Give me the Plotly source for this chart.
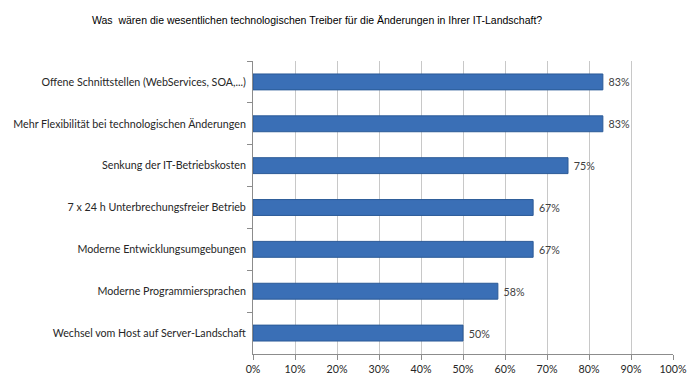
import plotly.graph_objects as go

title_text = "Was  wären die wesentlichen technologischen Treiber für die Änderungen in Ihrer IT-Landschaft?"
categories = [
    "Offene Schnittstellen (WebServices, SOA,...)",
    "Mehr Flexibilität bei technologischen Änderungen",
    "Senkung der IT-Betriebskosten",
    "7 x 24 h Unterbrechungsfreier Betrieb",
    "Moderne Entwicklungsumgebungen",
    "Moderne Programmiersprachen",
    "Wechsel vom Host auf Server-Landschaft",
]
values = [83.3, 83.3, 75.0, 66.7, 66.7, 58.3, 50.0]
tick_vals = [0, 10, 20, 30, 40, 50, 60, 70, 80, 90, 100]
tick_text = [f"{v}%" for v in tick_vals]

FONT = "Lato, Open Sans, Liberation Sans, Arial"
FS = 10.7

fig = go.Figure(
    go.Bar(
        x=values,
        y=categories,
        orientation="h",
        marker=dict(color="#3a6fb6", line=dict(color="#2b5a97", width=1)),
        texttemplate=" %{x:.0f}%",
        textposition="outside",
        textfont=dict(family=FONT, size=FS, color="#404040"),
        cliponaxis=False,
        hoverinfo="skip",
    )
)

fig.update_layout(
    width=692,
    height=379,
    margin=dict(l=253, r=19, t=61, b=25),
    paper_bgcolor="white",
    plot_bgcolor="white",
    bargap=0.62,
    showlegend=False,
    font=dict(family=FONT, size=FS, color="#262626"),
    annotations=[
        dict(
            text=title_text,
            xref="paper", yref="paper",
            x=-(253 - 90) / 420, y=1 + (61 - 20) / 293,
            xanchor="left", yanchor="middle",
            showarrow=False,
            font=dict(family="Liberation Sans, Arial", size=10.5, color="#000000"),
        )
    ],
)

fig.update_xaxes(
    range=[0, 100],
    tickvals=tick_vals,
    ticktext=tick_text,
    showgrid=True,
    gridcolor="#c8c8c8",
    gridwidth=1,
    showline=True,
    linecolor="#8c8c8c",
    ticks="outside",
    ticklen=5,
    tickcolor="#8c8c8c",
    zeroline=False,
    automargin=False,
    tickfont=dict(family=FONT, size=FS, color="#262626"),
)
fig.update_yaxes(
    autorange="reversed",
    showline=True,
    linecolor="#8c8c8c",
    ticks="outside",
    tickson="boundaries",
    ticklen=5,
    tickcolor="#8c8c8c",
    showgrid=False,
    automargin=False,
    ticklabelstandoff=4,
    tickfont=dict(family=FONT, size=FS, color="#262626"),
)

fig.write_html(
    "out.html",
    config={"displayModeBar": False},
    post_script="document.body.style.margin='0';",
)
